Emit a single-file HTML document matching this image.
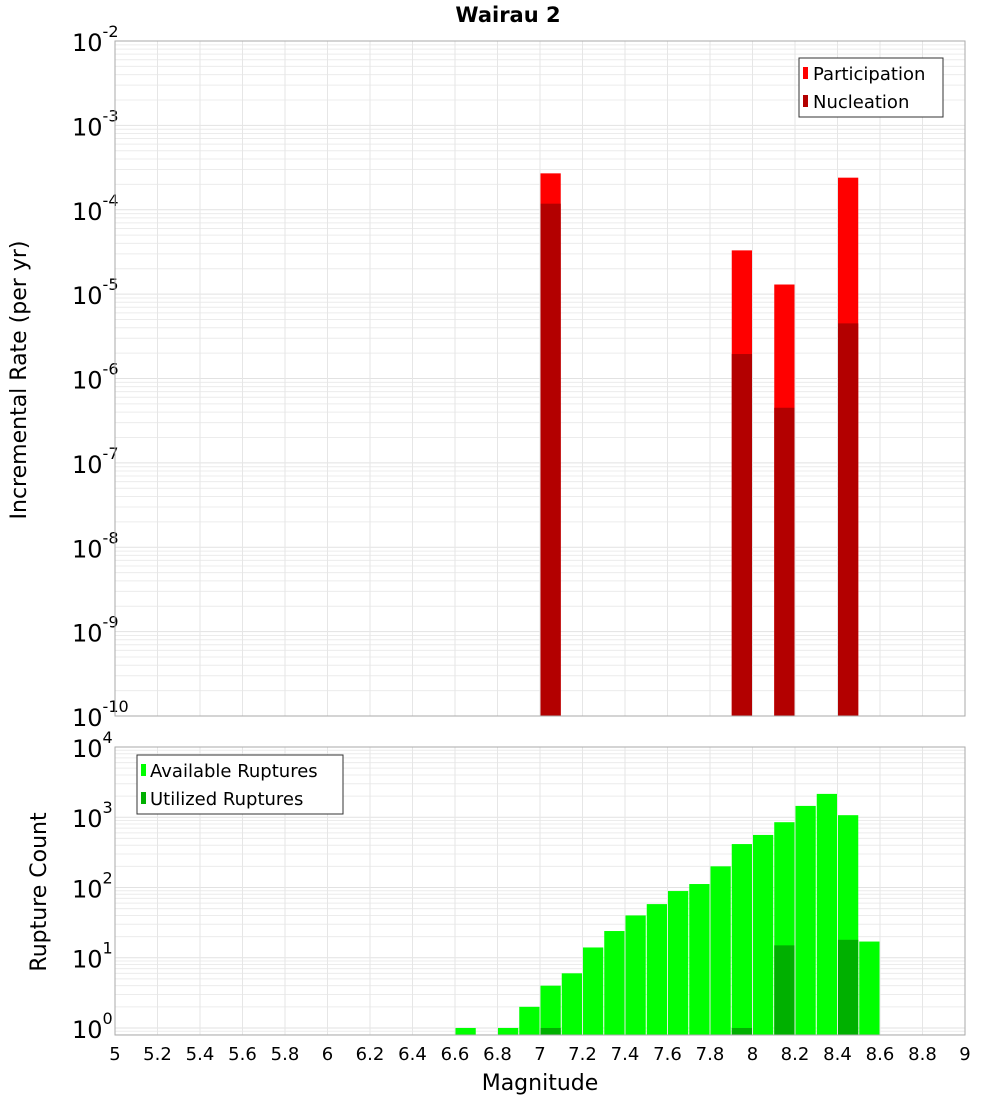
<!DOCTYPE html>
<html><head><meta charset="utf-8"><style>
body{margin:0;background:#fff;font-family:"DejaVu Sans","Liberation Sans",sans-serif}
svg text{font-family:"DejaVu Sans","Liberation Sans",sans-serif}
</style></head><body>
<svg id="c" width="1000" height="1100" xmlns="http://www.w3.org/2000/svg">
<text x="508" y="22" text-anchor="middle" font-size="21" font-weight="bold">Wairau 2</text>
<g id="gtop"></g>
<g id="gbot"></g>
<text transform="translate(26,380) rotate(-90)" text-anchor="middle" font-size="22">Incremental Rate (per yr)</text>
<text transform="translate(46,892) rotate(-90)" text-anchor="middle" font-size="22">Rupture Count</text>
<text x="540" y="1090" text-anchor="middle" font-size="22">Magnitude</text>
<g>
<rect x="799" y="58" width="144" height="59" fill="#fff" stroke="#333" stroke-width="1"/>
<rect x="803" y="67" width="5" height="12" fill="#ff0000"/>
<text x="813" y="80" font-size="18">Participation</text>
<rect x="803" y="95" width="5" height="12" fill="#b30000"/>
<text x="813" y="108" font-size="18">Nucleation</text>
</g>
<g>
<rect x="137" y="755" width="206" height="59" fill="#fff" stroke="#333" stroke-width="1"/>
<rect x="141" y="764" width="5" height="12" fill="#00ff00"/>
<text x="150" y="777" font-size="18">Available Ruptures</text>
<rect x="141" y="792" width="5" height="12" fill="#00b000"/>
<text x="150" y="805" font-size="18">Utilized Ruptures</text>
</g>
</svg>
<script>
const rateMags=[7.05,7.95,8.15,8.45];
const participation=[2.7e-4,3.3e-5,1.3e-5,2.4e-4];
const nucleation=[1.18e-4,1.95e-6,4.5e-7,4.5e-6];
const countMags=[6.65,6.85,6.95,7.05,7.15,7.25,7.35,7.45,7.55,7.65,7.75,7.85,7.95,8.05,8.15,8.25,8.35,8.45,8.55];
const available=[1,1,2,4,6,14,24,40,58,89,112,200,415,560,850,1450,2150,1070,17];
const utilMags=[7.05,7.95,8.15,8.45];
const utilized=[1,1,15,18];
const xTicks=["5","5.2","5.4","5.6","5.8","6","6.2","6.4","6.6","6.8","7","7.2","7.4","7.6","7.8","8","8.2","8.4","8.6","8.8","9"];
const topExps=[-10,-9,-8,-7,-6,-5,-4,-3,-2];
const botExps=[0,1,2,3,4];

const NS="http://www.w3.org/2000/svg";
const L=115,R=965;
const X=m=>L+(m-5)/4*(R-L);
const TA={top:41,bot:716,min:-10,max:-2};
const BA={top:747,bot:1035,min:-0.1,max:4};
const Y=(a,v)=>a.bot-(Math.log10(v)-a.min)/(a.max-a.min)*(a.bot-a.top);
function mk(p,tag,at){const e=document.createElementNS(NS,tag);for(const k in at)e.setAttribute(k,at[k]);p.appendChild(e);return e;}
function panel(g,a,exps,nm){
  mk(g,'rect',{x:L,y:a.top,width:R-L,height:a.bot-a.top,fill:'#fff'});
  for(let d=Math.floor(a.min);d<a.max;d++)for(let k=1;k<10;k++){const v=k*Math.pow(10,d);const lv=Math.log10(v);if(lv<a.min||lv>a.max)continue;const y=Y(a,v);
    const ln=mk(g,'line',{x1:L,x2:R,y1:y,y2:y,stroke:k==1?'#e2e2e2':'#ececec','stroke-width':1});
    
    }
  for(let i=0;i<xTicks.length;i++){const x=X(+xTicks[i]);
    const ln=mk(g,'line',{x1:x,x2:x,y1:a.top,y2:a.bot,stroke:'#e6e6e6','stroke-width':1});
    
    }
  exps.forEach(e=>{const y=Y(a,Math.pow(10,e));
    const t=mk(g,'text',{x:72,y:y+10,'font-size':24});
    
    
    t.textContent='10';
    const s=mk(t,'tspan',{dy:-14,'font-size':16});s.textContent=String(e);});
}
const gTop=document.getElementById('gtop'),gBot=document.getElementById('gbot');
panel(gTop,TA,topExps,'rate-y');
panel(gBot,BA,botExps,'count-y');
const w=(R-L)/40-1;
function bar(g,a,m,v,col,nm){const y=Y(a,v);
  const r=mk(g,'rect',{x:X(m)-w/2,y:y,width:w,height:a.bot-y,fill:col});
  
  }
rateMags.forEach((m,i)=>bar(gTop,TA,m,participation[i],'#ff0000','participation-bar'));
rateMags.forEach((m,i)=>bar(gTop,TA,m,nucleation[i],'#b30000','nucleation-bar'));
countMags.forEach((m,i)=>bar(gBot,BA,m,available[i],'#00ff00','available-bar'));
utilMags.forEach((m,i)=>bar(gBot,BA,m,utilized[i],'#00b000','utilized-bar'));
[TA,BA].forEach(a=>mk(document.getElementById('c'),'rect',{x:L,y:a.top,width:R-L,height:a.bot-a.top,fill:'none',stroke:'#aaa','stroke-width':1}));
xTicks.forEach(t=>{const e=mk(document.getElementById('c'),'text',{x:X(+t),y:1060,'text-anchor':'middle','font-size':18});
  
  
  e.textContent=t;});
</script>
</body></html>
